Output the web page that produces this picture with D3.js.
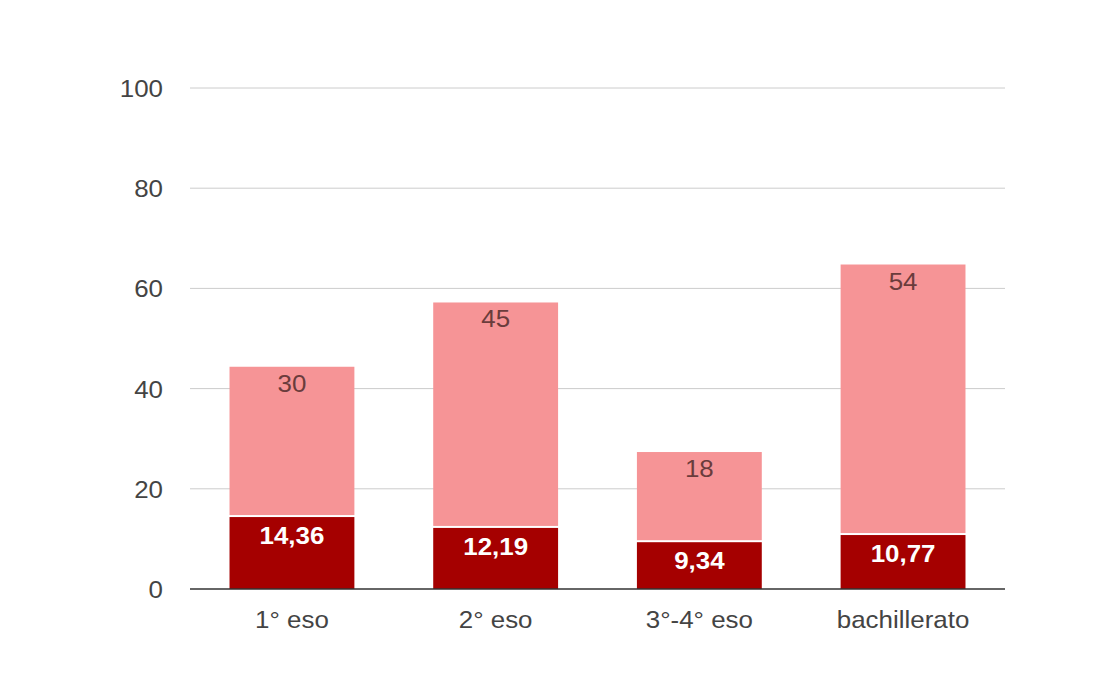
<!DOCTYPE html>
<html>
<head>
<meta charset="utf-8">
<script src="https://cdn.jsdelivr.net/npm/d3@7"></script>
<style>
  body { margin: 0; background: #fff; }
  text { font-family: "Liberation Sans", Arial, sans-serif; }
</style>
</head>
<body>
<script>
const width = 1110;
const height = 700;

// data
const categories = ["1° eso", "2° eso", "3°-4° eso", "bachillerato"];
const darkValues = [14.36, 12.19, 9.34, 10.77];
const lightValues = [30, 45, 18, 54];
const yTicks = [0, 20, 40, 60, 80, 100];

const margin = { top: 88, right: 105, bottom: 111, left: 190 };
// the picture is a little wider than tall, so text is stretched a bit
const stretch = 1.08;

const svg = d3.select("body")
  .append("svg")
  .attr("width", width)
  .attr("height", height);

const x = d3.scaleBand()
  .domain(categories)
  .range([margin.left, width - margin.right])
  .paddingInner(0.387)
  .paddingOuter(0.194);

const y = d3.scaleLinear()
  .domain([0, 100])
  .range([height - margin.bottom, margin.top]);

function place(px, py) {
  return `translate(${px},${py}) scale(${stretch},1)`;
}

// gridlines
svg.append("g")
  .selectAll("line")
  .data(yTicks.filter(d => d > 0))
  .join("line")
  .attr("x1", margin.left)
  .attr("x2", width - margin.right)
  .attr("y1", d => y(d))
  .attr("y2", d => y(d))
  .attr("stroke", "#cccccc")
  .attr("stroke-width", 1);

// y tick labels
svg.append("g")
  .selectAll("text")
  .data(yTicks)
  .join("text")
  .attr("transform", d => place(163, y(d) + 9))
  .attr("text-anchor", "end")
  .attr("font-size", 24)
  .attr("fill", "#444")
  .text(d => d);

const rows = categories.map((c, i) => ({
  cat: c,
  dark: darkValues[i],
  light: lightValues[i]
}));

// bottom segment
svg.append("g")
  .selectAll("rect")
  .data(rows)
  .join("rect")
  .attr("x", d => x(d.cat))
  .attr("width", x.bandwidth())
  .attr("y", d => y(d.dark))
  .attr("height", d => y(0) - y(d.dark))
  .attr("fill", "#a50000");

// top segment, with a thin white gap
svg.append("g")
  .selectAll("rect")
  .data(rows)
  .join("rect")
  .attr("x", d => x(d.cat))
  .attr("width", x.bandwidth())
  .attr("y", d => y(d.dark + d.light))
  .attr("height", d => y(d.dark) - y(d.dark + d.light) - 2)
  .attr("fill", "#f69496");

// labels
svg.append("g")
  .selectAll("text")
  .data(rows)
  .join("text")
  .attr("transform", d => place(x(d.cat) + x.bandwidth() / 2, y(d.dark) + 27))
  .attr("text-anchor", "middle")
  .attr("font-size", 24)
  .attr("font-weight", "bold")
  .attr("fill", "#ffffff")
  .text(d => String(d.dark).replace(".", ","));

svg.append("g")
  .selectAll("text")
  .data(rows)
  .join("text")
  .attr("transform", d => place(x(d.cat) + x.bandwidth() / 2, y(d.dark + d.light) + 25))
  .attr("text-anchor", "middle")
  .attr("font-size", 24)
  .attr("fill", "#6a3c3c")
  .text(d => d.light);

// baseline
svg.append("line")
  .attr("x1", margin.left)
  .attr("x2", width - margin.right)
  .attr("y1", y(0))
  .attr("y2", y(0))
  .attr("stroke", "#333")
  .attr("stroke-width", 1.5);

// x labels
svg.append("g")
  .selectAll("text")
  .data(categories)
  .join("text")
  .attr("transform", d => place(x(d) + x.bandwidth() / 2, 628))
  .attr("text-anchor", "middle")
  .attr("font-size", 24)
  .attr("fill", "#444")
  .text(d => d);
</script>
</body>
</html>
